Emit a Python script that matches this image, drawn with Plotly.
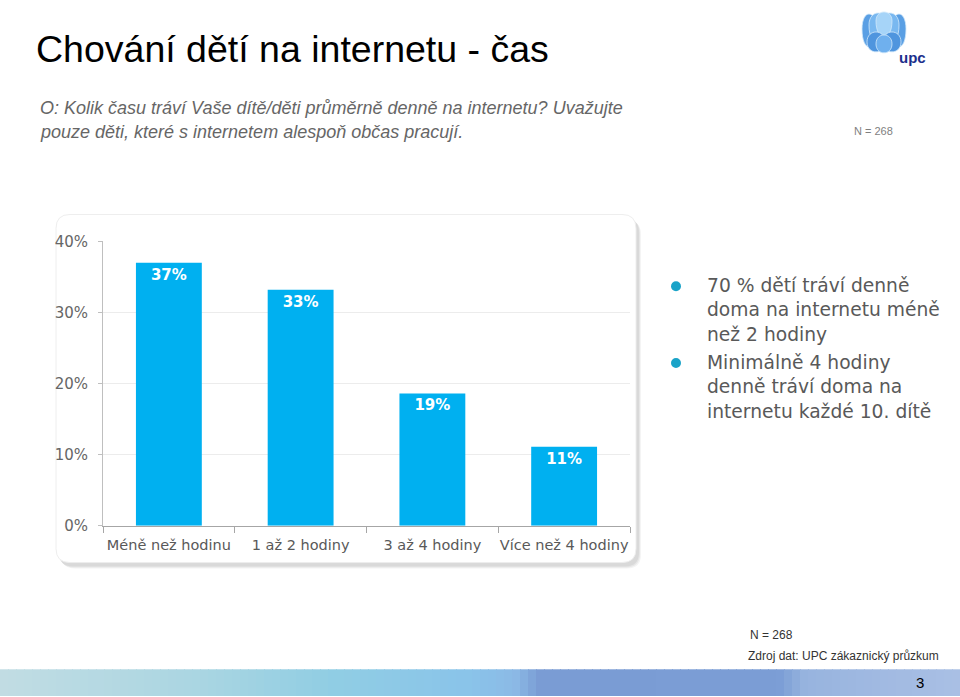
import plotly.graph_objects as go

categories = ["Méně než hodinu", "1 až 2 hodiny", "3 až 4 hodiny", "Více než 4 hodiny"]
values = [37.0, 33.2, 18.6, 11.1]
labels = ["37%", "33%", "19%", "11%"]
y_ticks = [0, 10, 20, 30, 40]
y_tick_labels = ["0%", "10%", "20%", "30%", "40%"]
bullets = [
    "70 % dětí tráví denně<br>doma na internetu méně<br>než 2 hodiny",
    "Minimálně 4 hodiny<br>denně tráví doma na<br>internetu každé 10. dítě",
]

W, H = 960, 705
TOP, K = 8, 0.977
def px(x):
    return x / W
def py(y):
    return max(0.0, min(1.0, 1 - ((y - TOP) / K) / H))

fig = go.Figure()
fig.add_trace(go.Bar(
    x=categories, y=values, text=labels,
    textposition="inside", insidetextanchor="end",
    textfont=dict(family="DejaVu Sans", size=15, color="white"),
    texttemplate="<b>%{text}</b>",
    marker=dict(color="#00b0f0", line=dict(width=0)),
    hoverinfo="skip",
))

shapes = []
def rrect(x0, y0, x1, y1, r):
    return (f"M {px(x0+r)} {py(y0)} L {px(x1-r)} {py(y0)} "
            f"Q {px(x1)} {py(y0)} {px(x1)} {py(y0+r)} L {px(x1)} {py(y1-r)} "
            f"Q {px(x1)} {py(y1)} {px(x1-r)} {py(y1)} L {px(x0+r)} {py(y1)} "
            f"Q {px(x0)} {py(y1)} {px(x0)} {py(y1-r)} L {px(x0)} {py(y0+r)} "
            f"Q {px(x0)} {py(y0)} {px(x0+r)} {py(y0)} Z")
for i, c in enumerate(["#f4f4f4", "#e6e6e6", "#d9d9d9"]):
    o = 3 - i
    shapes.append(dict(type="path", xref="paper", yref="paper", layer="below",
                       path=rrect(58 + o, 217 + o, 638 + o, 566 + o, 14),
                       fillcolor=c, line=dict(width=0)))
shapes.append(dict(type="path", xref="paper", yref="paper", layer="below",
                   path=rrect(56, 214, 636, 563, 14),
                   fillcolor="white", line=dict(color="#eeeeee", width=1)))

# bottom strip, piecewise gradient
stops = [(0, (194, 221, 228)), (200, (170, 214, 226)), (330, (145, 206, 228)),
         (470, (138, 196, 234)), (515, (140, 186, 230)), (540, (122, 156, 212)),
         (780, (124, 158, 214)), (805, (152, 180, 223)), (960, (170, 192, 229))]
def col_at(x):
    for (xa, ca), (xb, cb) in zip(stops[:-1], stops[1:]):
        if xa <= x <= xb:
            t = (x - xa) / (xb - xa)
            return tuple(int(ca[k] + (cb[k] - ca[k]) * t) for k in range(3))
    return stops[-1][1]
step = 8
for xs in range(0, 960, step):
    c = col_at(xs + step / 2)
    shapes.append(dict(type="rect", xref="paper", yref="paper", layer="below",
                       x0=px(xs), x1=min(1, px(xs + step + 1)),
                       y0=0, y1=py(670),
                       fillcolor="rgb(%d,%d,%d)" % c, line=dict(width=0)))

# bullet dots
for yb in [286, 363]:
    shapes.append(dict(type="circle", xref="paper", yref="paper",
                       x0=px(671), x1=px(681), y0=py(yb + 5), y1=py(yb - 5),
                       fillcolor="#1aa3c8", line=dict(width=0)))

# logo petals
def ellipse_path(cx, cy, rx, ry):
    return (f"M {px(cx-rx)} {py(cy)} "
            f"C {px(cx-rx)} {py(cy-ry*1.33)} {px(cx+rx)} {py(cy-ry*1.33)} {px(cx+rx)} {py(cy)} "
            f"C {px(cx+rx)} {py(cy+ry*1.33)} {px(cx-rx)} {py(cy+ry*1.33)} {px(cx-rx)} {py(cy)} Z")
petals = [(869, 28, 7, 18, "#5a9fe4"), (899, 28, 7, 18, "#5a9fe4"),
          (878, 24, 9, 19, "#79b8f0"), (890, 24, 9, 19, "#79b8f0"),
          (884, 20, 8, 16, "#a6d4f8"), (876, 41, 9, 10, "#4f95de"),
          (892, 41, 9, 10, "#4f95de"), (884, 43, 8, 9, "#6fb0ee")]
for cx, cy, rx, ry, col in petals:
    shapes.append(dict(type="path", xref="paper", yref="paper",
                       path=ellipse_path(cx, cy, rx, ry),
                       fillcolor=col, line=dict(color="#d2e8fa", width=0.8)))

def ann(text, x, y, size, color, family="Liberation Sans", xanchor="left", yanchor="middle"):
    return dict(text=text, x=px(x), y=py(y), xref="paper", yref="paper",
                xanchor=xanchor, yanchor=yanchor, align="left", showarrow=False,
                font=dict(family=family, size=size, color=color))

annotations = [
    ann("Chování dětí na internetu - čas", 34, 48, 37.5, "black"),
    ann("<i>O: Kolik času tráví Vaše dítě/děti průměrně denně na internetu? Uvažujte</i>", 38, 107, 18, "#666666"),
    ann("<i>pouze děti, které s internetem alespoň občas pracují.</i>", 38, 131, 18, "#666666"),
    ann("N = 268", 852, 130, 11, "#7f7f7f"),
    ann("<b>upc</b>", 912, 57, 15, "#1c2f8c", xanchor="center"),
    ann(bullets[0], 705, 273, 18.7, "#595959", family="DejaVu Sans", yanchor="top"),
    ann(bullets[1], 705, 350, 18.7, "#595959", family="DejaVu Sans", yanchor="top"),
    ann("N = 268", 748, 636, 12, "#333333"),
    ann("Zdroj dat: UPC zákaznický průzkum", 746, 657, 12, "#333333"),
    ann("3", 920, 683, 15, "black", xanchor="center"),
]

fig.update_layout(
    width=W, height=H, autosize=False, margin=dict(l=0, r=0, t=0, b=0),
    paper_bgcolor="white", plot_bgcolor="rgba(0,0,0,0)",
    showlegend=False, bargap=0.5,
    shapes=shapes, annotations=annotations,
    xaxis=dict(domain=[px(103), px(630)], showline=True, linecolor="#a6a6a6", linewidth=1,
               ticks="outside", tickson="boundaries", ticklen=6, tickcolor="#a6a6a6", tickangle=0,
               ticklabelstandoff=6,
               tickfont=dict(family="DejaVu Sans", size=14.5, color="#595959"), fixedrange=True),
    yaxis=dict(domain=[py(526), py(241)], range=[0, 40], tickvals=y_ticks, ticktext=y_tick_labels,
               showline=True, linecolor="#bfbfbf", ticks="outside", ticklen=4, tickcolor="#bfbfbf",
               ticklabelstandoff=7,
               showgrid=True, gridcolor="#ececec", zeroline=False,
               tickfont=dict(family="DejaVu Sans", size=15, color="#666666"), fixedrange=True),
)

fig.write_html("out.html", config={"responsive": False, "displayModeBar": False},
               post_script="document.body.style.margin='0';document.body.style.overflow='hidden';")
